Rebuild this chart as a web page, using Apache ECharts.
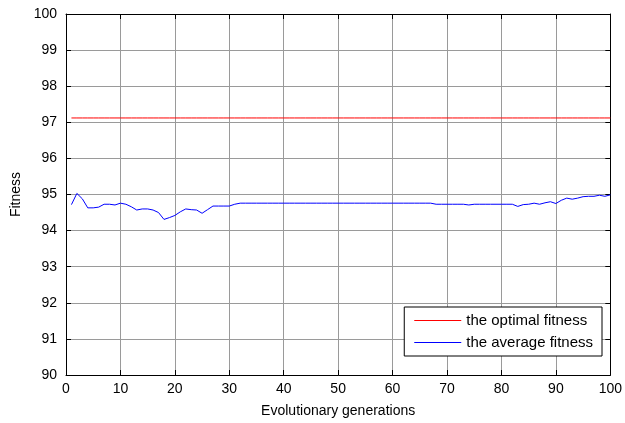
<!DOCTYPE html>
<html>
<head>
<meta charset="utf-8">
<script src="https://cdn.jsdelivr.net/npm/echarts@6/dist/echarts.min.js"></script>
<style>
  html, body { margin: 0; padding: 0; background: #fff; }
  #chart { width: 625px; height: 423px; }
</style>
</head>
<body>
<div id="chart"></div>
<script>
// generations 1..100
var generations = [];
for (var g = 1; g <= 100; g++) generations.push(g);

// the optimal fitness (flat)
var optimalValue = 97.12;

// the average fitness
var averageFitness = [
  94.72, 95.03, 94.88, 94.63, 94.63, 94.65, 94.73, 94.73, 94.71, 94.76,
  94.73, 94.66, 94.57, 94.60, 94.60, 94.57, 94.50, 94.31, 94.36, 94.42,
  94.52, 94.60, 94.58, 94.57, 94.48, 94.58, 94.68, 94.68, 94.68, 94.68,
  94.73, 94.76, 94.76, 94.76, 94.76, 94.76, 94.76, 94.76, 94.76, 94.76,
  94.76, 94.76, 94.76, 94.76, 94.76, 94.76, 94.76, 94.76, 94.76, 94.76,
  94.76, 94.76, 94.76, 94.76, 94.76, 94.76, 94.76, 94.76, 94.76, 94.76,
  94.76, 94.76, 94.76, 94.76, 94.76, 94.76, 94.76, 94.73, 94.73, 94.73,
  94.73, 94.73, 94.73, 94.71, 94.73, 94.73, 94.73, 94.73, 94.73, 94.73,
  94.73, 94.73, 94.67, 94.72, 94.73, 94.76, 94.73, 94.77, 94.80, 94.75,
  94.84, 94.90, 94.87, 94.90, 94.94, 94.95, 94.95, 94.98, 94.95, 94.99
];

var seriesNames = ['the optimal fitness', 'the average fitness'];

var optimalData = generations.map(function (g) { return [g, optimalValue]; });
var averageData = generations.map(function (g, i) { return [g, averageFitness[i]]; });

var font = 'Liberation Sans, Arial, sans-serif';

var chart = echarts.init(document.getElementById('chart'), null, { renderer: 'canvas' });

function boxAxis(extra) {
  var base = {
    axisLine: { show: true, onZero: false, lineStyle: { color: '#000', width: 1 } },
    axisTick: { show: true, inside: true, length: 5, lineStyle: { color: '#000' } },
    splitLine: { show: false },
    axisLabel: { show: false }
  };
  for (var k in extra) base[k] = extra[k];
  return base;
}

chart.setOption({
  animation: false,
  backgroundColor: '#fff',
  grid: { left: 66, right: 14, top: 14, bottom: 47 },
  legend: {
    data: seriesNames,
    orient: 'vertical',
    right: 23,
    top: 307,
    itemWidth: 47,
    itemHeight: 1,
    itemGap: 5,
    padding: [5, 9, 5, 10],
    borderColor: '#000',
    borderWidth: 1,
    backgroundColor: '#fff',
    icon: 'rect',
    textStyle: { fontFamily: font, fontSize: 15, color: '#000', lineHeight: 17 }
  },
  xAxis: [
    {
      type: 'value',
      min: 0,
      max: 100,
      interval: 10,
      name: 'Evolutionary generations',
      nameLocation: 'middle',
      nameGap: 29,
      nameTextStyle: { fontFamily: font, fontSize: 14, color: '#000' },
      axisLine: { show: true, onZero: false, lineStyle: { color: '#000', width: 1 } },
      axisTick: { show: true, inside: true, length: 5, lineStyle: { color: '#000' } },
      axisLabel: { fontFamily: font, fontSize: 14, color: '#000', margin: 7 },
      splitLine: { show: true, lineStyle: { color: '#9a9a9a', width: 1 } }
    },
    boxAxis({ type: 'value', position: 'top', min: 0, max: 100, interval: 10 })
  ],
  yAxis: [
    {
      type: 'value',
      min: 90,
      max: 100,
      interval: 1,
      name: 'Fitness',
      nameLocation: 'middle',
      nameGap: 42,
      nameTextStyle: { fontFamily: font, fontSize: 14, color: '#000' },
      axisLine: { show: true, onZero: false, lineStyle: { color: '#000', width: 1 } },
      axisTick: { show: true, inside: true, length: 5, lineStyle: { color: '#000' } },
      axisLabel: { fontFamily: font, fontSize: 14, color: '#000', margin: 9 },
      splitLine: { show: true, lineStyle: { color: '#9a9a9a', width: 1 } }
    },
    boxAxis({ type: 'value', position: 'right', min: 90, max: 100, interval: 1 })
  ],
  series: [
    {
      name: seriesNames[0],
      type: 'line',
      data: optimalData,
      showSymbol: false,
      symbol: 'none',
      color: '#ff0000',
      lineStyle: { color: '#ff0000', width: 1 }
    },
    {
      name: seriesNames[1],
      type: 'line',
      data: averageData,
      showSymbol: false,
      symbol: 'none',
      color: '#0000ff',
      lineStyle: { color: '#0000ff', width: 1 }
    }
  ]
});
</script>
</body>
</html>
